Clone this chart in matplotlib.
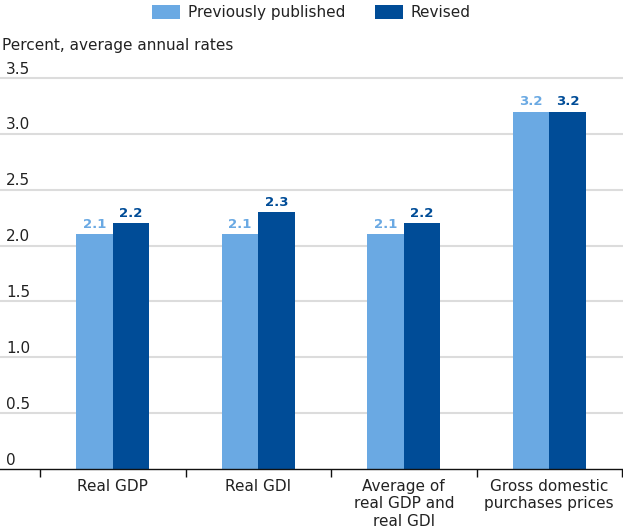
import matplotlib
matplotlib.use("Agg")
import matplotlib.pyplot as plt
import matplotlib.transforms as mtransforms
from matplotlib.patches import Patch
import numpy as np

plt.rcParams['font.family'] = ['DejaVu Sans']

categories = ["Real GDP", "Real GDI", "Average of\nreal GDP and\nreal GDI",
              "Gross domestic\npurchases prices"]
previously_published = [2.1, 2.1, 2.1, 3.2]
revised = [2.2, 2.3, 2.2, 3.2]
y_ticks = [0, 0.5, 1.0, 1.5, 2.0, 2.5, 3.0, 3.5]
y_tick_labels = ["0", "0.5", "1.0", "1.5", "2.0", "2.5", "3.0", "3.5"]
series_names = ["Previously published", "Revised"]

light = "#6aa9e3"
dark = "#004c97"
grid_color = "#dcdcdc"
text_color = "#222222"

W, H = 623, 527
fig = plt.figure(figsize=(W / 100, H / 100), dpi=100)
ax = fig.add_axes([0, 1 - 469 / H, 622 / W, (469 - 78) / H])

x = np.arange(len(categories))
bw = 0.25
ax.bar(x - bw / 2, previously_published, width=bw, color=light, zorder=3)
ax.bar(x + bw / 2, revised, width=bw, color=dark, zorder=3)

for xi, v in zip(x, previously_published):
    ax.annotate(f"{v:.1f}", (xi - bw / 2, v), xytext=(0, 2.5), textcoords="offset points",
                ha="center", va="bottom", fontsize=9.5, color=light, fontweight="bold")
for xi, v in zip(x, revised):
    ax.annotate(f"{v:.1f}", (xi + bw / 2, v), xytext=(0, 2.5), textcoords="offset points",
                ha="center", va="bottom", fontsize=9.5, color=dark, fontweight="bold")

ax.set_xlim(-0.5 - 40 / 145.5, 3.5)
ax.set_ylim(0, 3.5)

# horizontal gridlines with labels sitting on top of them at the left edge
for t in y_ticks[1:]:
    ax.axhline(t, color=grid_color, lw=1.5, zorder=1, clip_on=False)
label_tr = mtransforms.blended_transform_factory(fig.transFigure, ax.transData)
for t, lab in zip(y_ticks, y_tick_labels):
    ax.annotate(lab, (6 / W, t), xycoords=label_tr, xytext=(0, 1), textcoords="offset points",
                ha="left", va="bottom", fontsize=11, color=text_color)

for s in ["top", "right", "left"]:
    ax.spines[s].set_visible(False)
ax.spines["bottom"].set_color("#111111")
ax.spines["bottom"].set_linewidth(1.0)
ax.spines["bottom"].set_zorder(4)
ax.set_yticks([])

ax.set_xticks(x)
ax.set_xticklabels(categories, fontsize=11, color=text_color, linespacing=1.2)
ax.tick_params(axis="x", which="major", length=0, pad=7)
ax.set_xticks(np.arange(-0.5, 3.6, 1.0), minor=True)
ax.tick_params(axis="x", which="minor", length=6, width=1, color="#111111", direction="out")

fig.text(2 / W, 1 - 45 / H, "Percent, average annual rates", ha="left", va="center",
         fontsize=11, color=text_color)

handles = [Patch(facecolor=light, edgecolor="none"), Patch(facecolor=dark, edgecolor="none")]
fig.legend(handles, series_names, loc="center", bbox_to_anchor=(0.5, 1 - 12.5 / H), ncol=2,
           frameon=False, fontsize=11, handlelength=1.8, handleheight=1.0,
           handletextpad=0.5, columnspacing=2.0, labelcolor=text_color)

fig.savefig("out.png", dpi=100)
